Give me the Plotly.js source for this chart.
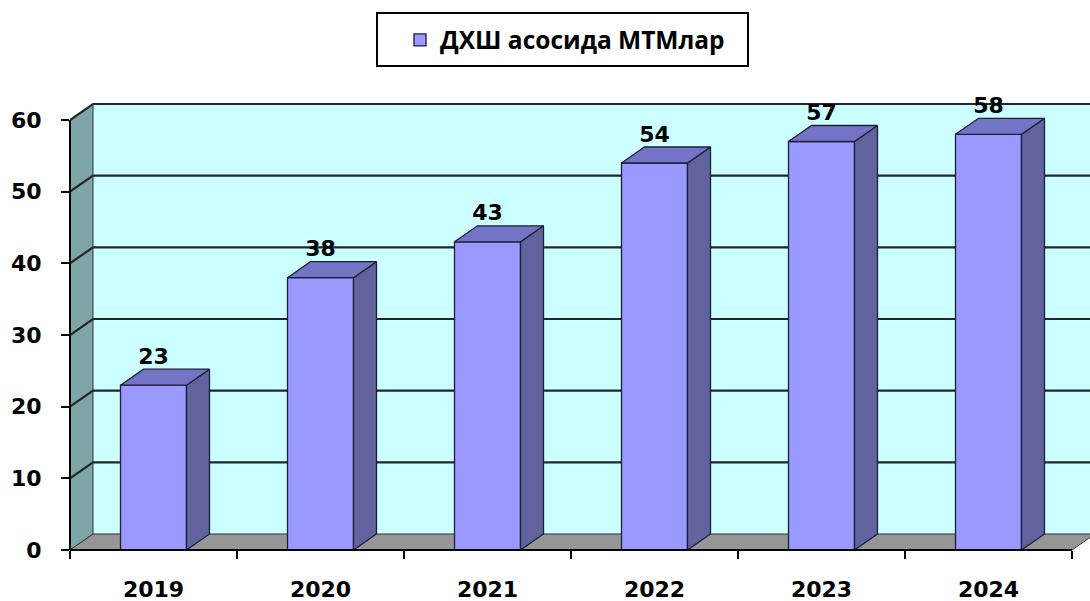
<!DOCTYPE html>
<html>
<head>
<meta charset="utf-8">
<script src="https://cdn.plot.ly/plotly-3.0.1.min.js"></script>
<style>html,body{margin:0;padding:0;background:#fff;}#chart{width:1090px;height:601px;}</style>
</head>
<body>
<div id="chart"></div>
<script>
// ---- data ----
const years = ['2019', '2020', '2021', '2022', '2023', '2024'];
const values = [23, 38, 43, 54, 57, 58];
const yTickVals = [0, 10, 20, 30, 40, 50, 60];
const yTickText = ['0', '10', '20', '30', '40', '50', '60'];
const seriesName = 'ДХШ асосида МТМлар';

// ---- geometry / style ----
const PX_PER_CAT = 167, PX_PER_UNIT = 430 / 60;
const PLOT_W = 1020, PLOT_H = 455;
const DX = 23 / PX_PER_CAT;        // depth offset in category units
const DY = 16 / PX_PER_UNIT;       // depth offset in value units
const BAR_W = 66 / PX_PER_CAT;
const XMIN = -0.5, XMAX = -0.5 + PLOT_W / PX_PER_CAT;
const YMAX = PLOT_H / PX_PER_UNIT;
const YTOP = yTickVals[yTickVals.length - 1];
const nCat = years.length;
const idx = years.map((_, i) => i);
const px2paperX = p => (p - 70) / PLOT_W;
const px2paperY = p => (550 - p) / PLOT_H;

const traces = [];
traces.push({
  type: 'bar', x: idx, y: values, width: BAR_W, name: seriesName,
  marker: {color: '#9999FF', line: {color: '#1e1e3a', width: 1.3}},
  hoverinfo: 'y', showlegend: true
});
values.forEach((v, i) => {
  const xl = i - BAR_W / 2, xr = i + BAR_W / 2;
  traces.push({
    type: 'scatter', mode: 'lines', fill: 'toself', fillcolor: '#62629F',
    x: [xr, xr + DX, xr + DX, xr, xr], y: [0, DY, v + DY, v, 0],
    line: {color: '#1e1e3a', width: 1.3}, showlegend: false, hoverinfo: 'skip'
  });
  traces.push({
    type: 'scatter', mode: 'lines', fill: 'toself', fillcolor: '#7474C6',
    x: [xl, xr, xr + DX, xl + DX, xl], y: [v, v, v + DY, v + DY, v],
    line: {color: '#1e1e3a', width: 1.3}, showlegend: false, hoverinfo: 'skip'
  });
});
traces.push({
  type: 'scatter', mode: 'text', x: idx, y: values.map(v => v + DY),
  text: values.map(String), textposition: 'top center', cliponaxis: false,
  textfont: {family: 'DejaVu Sans', size: 22, color: '#000', weight: 'bold'},
  showlegend: false, hoverinfo: 'skip'
});

const shapes = [];
// back wall
shapes.push({type: 'rect', xref: 'x', yref: 'y', layer: 'below',
  x0: XMIN + DX, x1: XMAX + 1, y0: DY, y1: YTOP + DY,
  fillcolor: '#CCFFFF', line: {width: 0}});
// left wall
shapes.push({type: 'path', xref: 'x', yref: 'y', layer: 'below',
  path: `M ${XMIN},0 L ${XMIN + DX},${DY} L ${XMIN + DX},${YTOP + DY} L ${XMIN},${YTOP} Z`,
  fillcolor: '#7FA6A6', line: {color: '#333', width: 1}});
// floor
shapes.push({type: 'path', xref: 'x', yref: 'y', layer: 'below',
  path: `M ${XMIN},0 L ${nCat - 0.5},0 L ${nCat - 0.5 + DX},${DY} L ${XMIN + DX},${DY} Z`,
  fillcolor: '#969696', line: {color: '#333', width: 1}});
// gridlines
yTickVals.forEach(t => {
  if (t === 0) return;
  shapes.push({type: 'path', xref: 'x', yref: 'y', layer: 'below',
    path: `M ${XMIN},${t} L ${XMIN + DX},${t + DY} L ${XMAX + 1},${t + DY}`,
    line: {color: '#262626', width: 2.2}});
});
// axis lines
shapes.push({type: 'line', xref: 'paper', yref: 'y', x0: 0, x1: 0, y0: 0, y1: YTOP,
  line: {color: '#000', width: 2}});
shapes.push({type: 'line', xref: 'x', yref: 'paper', x0: XMIN, x1: nCat - 0.5, y0: 0, y1: 0,
  line: {color: '#000', width: 2}});
// legend frame
shapes.push({type: 'rect', xref: 'paper', yref: 'paper',
  x0: px2paperX(377), x1: px2paperX(748), y0: px2paperY(66), y1: px2paperY(13),
  fillcolor: 'rgba(0,0,0,0)', line: {color: '#000', width: 2}});

const layout = {
  width: 1090, height: 601,
  margin: {l: 70, r: 0, t: 95, b: 51},
  paper_bgcolor: '#ffffff', plot_bgcolor: 'rgba(0,0,0,0)',
  showlegend: true,
  legend: {
    orientation: 'h', x: px2paperX(400), xanchor: 'left', y: px2paperY(40), yanchor: 'middle',
    borderwidth: 0, bgcolor: 'rgba(0,0,0,0)',
    font: {family: 'Open Sans', size: 24.5, color: '#000', weight: 'bold'},
    itemwidth: 30
  },
  xaxis: {
    type: 'linear', range: [XMIN, XMAX], showgrid: false, zeroline: false, showline: false,
    tickmode: 'array', tickvals: idx, ticktext: years, ticks: '',
    ticklabelstandoff: 24,
    tickfont: {family: 'DejaVu Sans', size: 22, color: '#000', weight: 'bold'},
    minor: {ticks: 'outside', ticklen: 8, tickwidth: 2, tickcolor: '#000', tick0: -0.5, dtick: 1, showgrid: false}
  },
  yaxis: {
    range: [0, YMAX], showgrid: false, zeroline: false, showline: false,
    tickmode: 'array', tickvals: yTickVals, ticktext: yTickText,
    ticks: 'outside', ticklen: 8, tickwidth: 2, tickcolor: '#000',
    ticklabelstandoff: 15,
    tickfont: {family: 'DejaVu Sans', size: 22, color: '#000', weight: 'bold'}
  },
  shapes: shapes,
  bargap: 0
};

Plotly.newPlot('chart', traces, layout, {displayModeBar: false, staticPlot: true});
</script>
</body>
</html>
